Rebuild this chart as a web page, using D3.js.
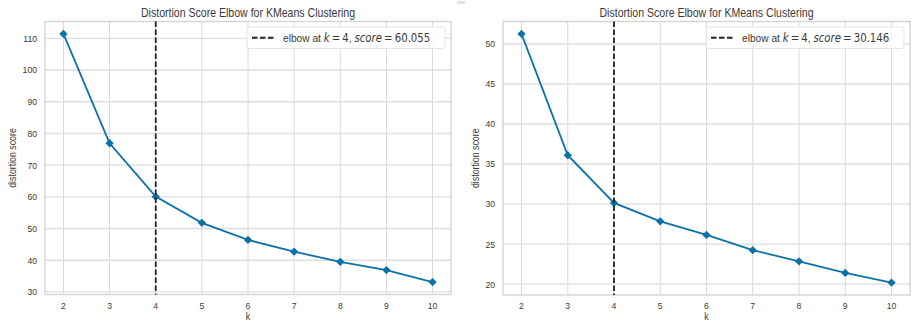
<!DOCTYPE html>
<html>
<head>
<meta charset="utf-8">
<script src="https://cdn.jsdelivr.net/npm/d3@7"></script>
<style>
  html, body { margin: 0; padding: 0; background: #fff; }
  svg { display: block; }
</style>
</head>
<body>
<svg id="chart" width="915" height="322"></svg>
<script>
// ---- data ----
const kValues = [2, 3, 4, 5, 6, 7, 8, 9, 10];
const scoresLeft = [111.4, 76.9, 60.055, 51.8, 46.4, 42.7, 39.5, 36.9, 33.1];
const scoresRight = [51.25, 36.1, 30.146, 27.85, 26.15, 24.25, 22.85, 21.4, 20.2];
const elbowK = [4, 4];
const elbowScore = ["60.055", "30.146"];
const yTicksLeft = [30, 40, 50, 60, 70, 80, 90, 100, 110];
const yTicksRight = [20, 25, 30, 35, 40, 45, 50];
const xTicks = [2, 3, 4, 5, 6, 7, 8, 9, 10];
const titleText = "Distortion Score Elbow for KMeans Clustering";
const xLabel = "k";
const yLabel = "distortion score";

const svg = d3.select("#chart");
const SX = 0.88; // horizontal text squeeze of the reference image
const SANS = "'Liberation Sans', Arial, sans-serif";
const MATH = "'DejaVu Sans', sans-serif";
const TEXT = "#3a3a3a";
const BLUE = "#0b72a8";

// tiny artifact at top middle
svg.append("rect").attr("x", 457).attr("y", 1).attr("width", 8).attr("height", 3).attr("fill", "#e2e2e2");

function label(g, x, y, str, size, anchor, rotate) {
  return g.append("text")
    .attr("transform", `translate(${x},${y})` + (rotate ? ` rotate(${rotate})` : "") + ` scale(${SX},1)`)
    .attr("text-anchor", anchor)
    .attr("font-family", SANS)
    .attr("font-size", size)
    .attr("fill", TEXT)
    .text(str);
}

function padDomain(vals) {
  const [a, b] = d3.extent(vals);
  const m = (b - a) * 0.05;
  return [a - m, b + m];
}

function panel(cfg) {
  const g = svg.append("g");
  const { left, right, top, bottom } = cfg;
  const x = d3.scaleLinear().domain(padDomain(kValues)).range([left, right]);
  const y = d3.scaleLinear().domain(padDomain(cfg.scores)).range([bottom, top]);

  // grid
  g.append("g").selectAll("line").data(xTicks).join("line")
    .attr("x1", d => x(d)).attr("x2", d => x(d)).attr("y1", top).attr("y2", bottom)
    .attr("stroke", "#d8d8d8").attr("stroke-width", 1);
  g.append("g").selectAll("line").data(cfg.yTicks).join("line")
    .attr("x1", left).attr("x2", right).attr("y1", d => y(d)).attr("y2", d => y(d))
    .attr("stroke", "#dedede").attr("stroke-width", 1.4);

  // frame
  g.append("rect").attr("x", left).attr("y", top).attr("width", right - left).attr("height", bottom - top)
    .attr("fill", "none").attr("stroke", "#d2d2d2").attr("stroke-width", 1.3);

  // tick labels
  xTicks.forEach(d => label(g, x(d), 308.5, d, 9.8, "middle"));
  cfg.yTicks.forEach(d => label(g, left - 8, y(d) + 3.4, d, 9.8, "end"));

  // axis labels
  label(g, (left + right) / 2, 319.5, xLabel, 10, "middle");
  label(g, cfg.yLabelX, (top + bottom) / 2, yLabel, 10, "middle", -90);

  // title
  label(g, (left + right) / 2, 16.5, titleText, 12, "middle");

  // data line
  const pts = kValues.map((k, i) => [k, cfg.scores[i]]);
  g.append("path").datum(pts)
    .attr("d", d3.line().x(d => x(d[0])).y(d => y(d[1])))
    .attr("fill", "none").attr("stroke", BLUE).attr("stroke-width", 1.8);
  g.append("g").selectAll("path").data(pts).join("path")
    .attr("d", d3.symbol().type(d3.symbolDiamond2).size(44))
    .attr("transform", d => `translate(${x(d[0])},${y(d[1])})`)
    .attr("fill", BLUE);

  // elbow line
  g.append("line").attr("x1", x(cfg.elbow)).attr("x2", x(cfg.elbow)).attr("y1", top).attr("y2", bottom)
    .attr("stroke", "#222").attr("stroke-width", 1.8).attr("stroke-dasharray", "5.5,2.5");

  // legend
  const lg = g.append("g");
  const bw = 198, bh = 21.5;
  const bx = right - 6 - bw, by = top + 5.5;
  lg.append("rect").attr("x", bx).attr("y", by).attr("width", bw).attr("height", bh).attr("rx", 2.5)
    .attr("fill", "#fff").attr("fill-opacity", 0.85).attr("stroke", "#e4e4e4").attr("stroke-width", 1);
  lg.append("line").attr("x1", bx + 5).attr("x2", bx + 27).attr("y1", by + bh / 2).attr("y2", by + bh / 2)
    .attr("stroke", "#222").attr("stroke-width", 1.8).attr("stroke-dasharray", "5.5,2.5");
  const t = lg.append("text")
    .attr("transform", `translate(${bx + 36},${by + bh / 2 + 4.2}) scale(${SX},1)`)
    .attr("font-family", SANS).attr("font-size", 11.6).attr("fill", TEXT);
  t.append("tspan").text("elbow at ");
  t.append("tspan").attr("font-family", MATH).attr("font-style", "italic").text("k");
  t.append("tspan").attr("font-family", MATH).text("\u2009=\u20094");
  t.append("tspan").text(", ");
  t.append("tspan").attr("font-family", MATH).attr("font-style", "italic").text("score");
  t.append("tspan").attr("font-family", MATH).text("\u2009=\u2009" + cfg.elbowScore);
}

panel({ left: 45, right: 451, top: 21.5, bottom: 294.5, scores: scoresLeft, yTicks: yTicksLeft,
        elbow: elbowK[0], elbowScore: elbowScore[0], yLabelX: 15.5 });
panel({ left: 503, right: 910, top: 21.5, bottom: 295, scores: scoresRight, yTicks: yTicksRight,
        elbow: elbowK[1], elbowScore: elbowScore[1], yLabelX: 479 });
</script>
</body>
</html>
